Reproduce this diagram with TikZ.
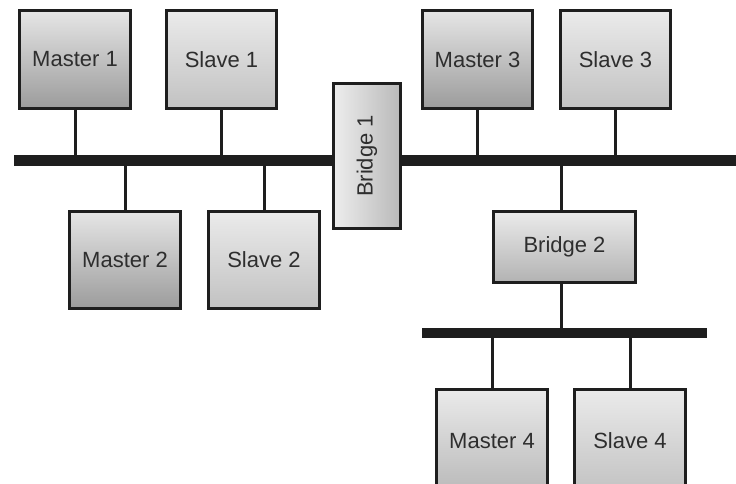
\documentclass[tikz,border=0pt]{standalone}
\usepackage{fontspec}
\setmainfont{Liberation Sans}
\definecolor{ink}{HTML}{1E1E1E}
\definecolor{txt}{HTML}{2E2E2E}
\tikzset{
  x=1pt, y=-1pt,
  box/.style={draw=ink, line width=3pt, inner sep=0pt, text=txt,
    font=\fontsize{22}{25}\selectfont},
  mbox/.style={box, top color=gray!20, bottom color=gray!78},
  sbox/.style={box, top color=gray!16, bottom color=gray!48},
  bus/.style={draw=ink, line width=11pt},
  conn/.style={draw=ink, line width=3pt},
}
\begin{document}
\begin{tikzpicture}
\useasboundingbox (0,0) rectangle (736,484);
\clip (0,0) rectangle (736,484);
% buses
\coordinate (busL) at (14,160);
\coordinate (busR) at (740,160);
\coordinate (bus2L) at (422,333);
\coordinate (bus2R) at (707,333);
\draw[bus] (busL) -- (busR);
\draw[bus, line width=10pt] (bus2L) -- (bus2R);
% nodes
\node[mbox, minimum width=111pt, minimum height=98pt] (m1) at (75,59.5) {Master 1};
\node[sbox, minimum width=110pt, minimum height=98pt] (s1) at (221.5,59.5) {Slave 1};
\node[mbox, minimum width=110pt, minimum height=98pt] (m3) at (477.5,59.5) {Master 3};
\node[sbox, minimum width=110pt, minimum height=98pt] (s3) at (615.5,59.5) {Slave 3};
\node[box, left color=gray!14, right color=gray!55, minimum width=67pt, minimum height=145pt] (b1) at (367,156) {};
\node[text=txt, font=\fontsize{22}{25}\selectfont, rotate=90] (b1t) at (b1.center) {Bridge 1};
\node[mbox, minimum width=111pt, minimum height=97pt] (m2) at (125,260) {Master 2};
\node[sbox, minimum width=111pt, minimum height=97pt] (s2) at (264,260) {Slave 2};
\node[box, top color=gray!16, bottom color=gray!60, minimum width=142pt, minimum height=71pt] (b2) at (564.5,247) {Bridge 2};
\node[box, top color=gray!16, bottom color=gray!55, minimum width=111pt, minimum height=104pt] (m4) at (492,441) {Master 4};
\node[sbox, minimum width=111pt, minimum height=104pt] (s4) at (630,441) {Slave 4};
% connectors
\draw[conn] (m1.south) -- (m1.south |- busL);
\draw[conn] (s1.south) -- (s1.south |- busL);
\draw[conn] (m3.south) -- (m3.south |- busL);
\draw[conn] (s3.south) -- (s3.south |- busL);
\draw[conn] (m2.north) -- (m2.north |- busL);
\draw[conn] (s2.north) -- (s2.north |- busL);
\draw[conn] ([xshift=-3.5pt]b2.north) -- ([xshift=-3.5pt]b2.north |- busL);
\draw[conn] ([xshift=-3.5pt]b2.south) -- ([xshift=-3.5pt]b2.south |- bus2L);
\draw[conn] (m4.north) -- (m4.north |- bus2L);
\draw[conn] (s4.north) -- (s4.north |- bus2L);
\end{tikzpicture}
\end{document}
